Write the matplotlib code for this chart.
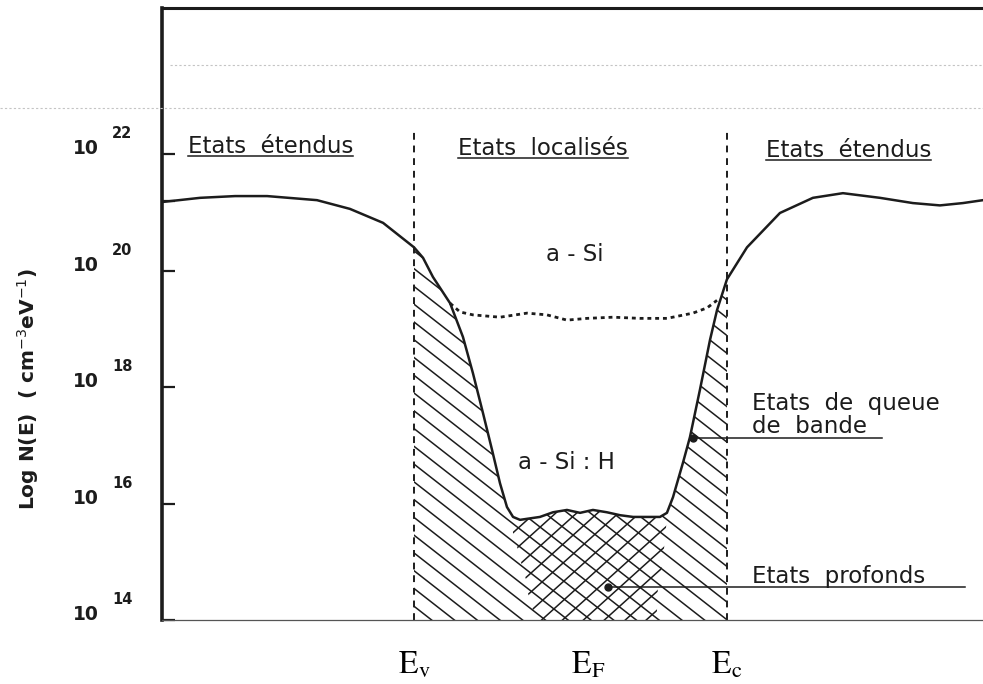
"""Density of states N(E) in a-Si and a-Si:H (schematic, log scale)."""
import matplotlib
matplotlib.use("Agg")
import matplotlib.pyplot as plt
import numpy as np
from matplotlib.collections import LineCollection
from matplotlib.lines import Line2D
from matplotlib.patches import Polygon
from matplotlib.transforms import IdentityTransform

# energy axis in eV, E_v = 0 ; y axis = log10 N(E)
E_V, E_F, E_C = 0.0, 0.945, 1.70

# a-Si:H density of states (solid curve)
e_h = [-1.363, -1.162, -0.972, -0.798, -0.527, -0.348, -0.168, 0.0, 0.049, 0.103,
       0.196, 0.266, 0.320, 0.375, 0.424, 0.467, 0.505, 0.538, 0.576, 0.684,
       0.755, 0.831, 0.902, 0.972, 1.048, 1.119, 1.190, 1.336, 1.374, 1.407,
       1.461, 1.499, 1.553, 1.608, 1.646, 1.70, 1.809, 1.988, 2.167, 2.330,
       2.531, 2.710, 2.857, 2.982, 3.091]
logn_h = [21.18, 21.25, 21.28, 21.28, 21.21, 21.06, 20.82, 20.40, 20.22, 19.89,
          19.44, 18.86, 18.24, 17.55, 16.92, 16.35, 15.94, 15.77, 15.72, 15.77,
          15.85, 15.89, 15.84, 15.89, 15.85, 15.80, 15.77, 15.77, 15.84, 16.11,
          16.70, 17.14, 17.95, 18.81, 19.32, 19.85, 20.40, 20.99, 21.25, 21.33,
          21.25, 21.16, 21.12, 21.16, 21.21]

# a-Si gap states (dotted curve)
e_si = [0.196, 0.250, 0.320, 0.467, 0.614, 0.722, 0.831, 0.940, 1.081, 1.228,
        1.374, 1.515, 1.592, 1.646]
logn_si = [19.44, 19.29, 19.24, 19.20, 19.27, 19.24, 19.15, 19.18, 19.20, 19.18,
           19.18, 19.27, 19.36, 19.49]

# edges of the deep states zone (cross hatched), top to bottom
deep_left_e = [0.532, 0.538, 0.565, 0.592, 0.614, 0.619, 0.646, 0.657]
deep_left_logn = [15.68, 15.49, 15.20, 14.86, 14.64, 14.46, 14.17, 14.00]
deep_right_e = [1.374, 1.363, 1.347, 1.325, 1.320, 1.315]
deep_right_logn = [15.77, 15.37, 14.91, 14.57, 14.17, 14.00]

y_ticks = [14, 16, 18, 20, 22]
y_minor = [21.19]
tick_exp = ["14", "16", "18", "20", "22"]

headers = ["Etats  étendus", "Etats  localisés", "Etats  étendus"]
header_e = [-1.228, 0.239, 1.912]
header_logn = [22.02, 21.98, 21.95]

tail_note = ("Etats  de  queue", "de  bande")
tail_dot = (1.515, 17.12)
tail_line_end = 2.542
deep_note = "Etats  profonds"
deep_dot = (1.054, 14.57)
deep_line_end = 2.993

Y_MIN, Y_MAX = 14.0, 24.51
X_MIN, X_MAX = -1.369, 3.091
INK = "#1c1c1c"
FS = 16.5

fig = plt.figure(figsize=(9.83, 6.84), dpi=100)
ax = fig.add_axes([162 / 983, 64 / 684, 821 / 983, 612 / 684])
ax.set_xlim(X_MIN, X_MAX)
ax.set_ylim(Y_MIN, Y_MAX)


def hatch(ax, verts, angle, spacing=14.0, lw=1.1):
    """Straight hatch lines at a given angle, clipped to a data polygon."""
    patch = Polygon(verts, closed=True, facecolor="none", edgecolor="none")
    ax.add_patch(patch)
    w, h = ax.bbox.width, ax.bbox.height
    a = np.radians(angle)
    d = np.array([np.cos(a), np.sin(a)])
    n = np.array([-np.sin(a), np.cos(a)])
    L = np.hypot(w, h)
    segs = []
    for c in np.arange(-L, L, spacing):
        p0 = c * n - L * d
        p1 = c * n + L * d
        segs.append([(p0[0] / w, p0[1] / h), (p1[0] / w, p1[1] / h)])
    lc = LineCollection(segs, colors=INK, linewidths=lw, transform=ax.transAxes, zorder=1)
    lc.set_clip_path(patch)
    ax.add_collection(lc, autolim=False)


eh = np.array(e_h)
nh = np.array(logn_h)

# band tails: everything under the curve between E_v and E_c
m = (eh >= E_V) & (eh <= E_C)
tail_verts = [(E_V, Y_MIN)] + list(zip(eh[m], nh[m])) + [(E_C, Y_MIN)]
hatch(ax, tail_verts, -38)

# deep states: second set of lines -> cross hatch
m = (eh > deep_left_e[0]) & (eh < deep_right_e[0])
deep_verts = (list(zip(deep_left_e[::-1], deep_left_logn[::-1]))
              + list(zip(eh[m], nh[m]))
              + list(zip(deep_right_e, deep_right_logn)))
hatch(ax, deep_verts, 42)

ax.plot(eh, nh, color=INK, lw=1.8, zorder=3, solid_capstyle="round")
ax.plot(e_si, logn_si, color=INK, lw=2.0, ls=(0, (1.4, 1.4)), zorder=3)

for e in (E_V, E_C):
    ax.plot([e, e], [Y_MIN, 22.38], color=INK, lw=1.4, ls=(0, (3.5, 3)), zorder=2)

# spines / ticks
ax.spines["right"].set_visible(False)
ax.spines["left"].set_linewidth(2.6)
ax.spines["top"].set_linewidth(2.2)
ax.spines["left"].set_color(INK)
ax.spines["top"].set_color(INK)
ax.spines["bottom"].set_linewidth(0.9)
ax.spines["bottom"].set_color("#555555")
ax.set_xticks([])
ax.set_yticks(y_ticks)
ax.set_yticks(y_minor, minor=True)
ax.tick_params(axis="y", which="both", direction="in", length=9, width=1.6,
               color=INK, labelleft=False)

ytr = ax.get_yaxis_transform()
for v, ex in zip(y_ticks, tick_exp):
    ax.annotate("10", xy=(0, v), xycoords=ytr, xytext=(-89, 0), textcoords="offset pixels",
                ha="left", va="baseline", fontsize=13.5, fontweight="bold", color=INK,
                annotation_clip=False)
    ax.annotate(ex, xy=(0, v), xycoords=ytr, xytext=(-50, 16), textcoords="offset pixels",
                ha="left", va="baseline", fontsize=10.5, fontweight="bold", color=INK,
                annotation_clip=False)

fig.text(28 / 983, 1 - 389 / 684, r"Log N(E)  ( cm$^{-3}$eV$^{-1}$)", rotation=90,
         ha="center", va="center", fontsize=14.5, fontweight="bold", color=INK)

# region titles, underlined
txt_kw = dict(fontsize=FS, color=INK, va="baseline", ha="left")
underlined = []
for lab, e, y in zip(headers, header_e, header_logn):
    underlined.append(ax.text(e, y, lab, **txt_kw))

ax.text(0.875, 20.27, "a - Si", fontsize=FS, color=INK, ha="center", va="center")
ax.text(0.826, 16.70, "a - Si : H", fontsize=FS, color=INK, ha="center", va="center")

ax.text(1.836, 17.605, tail_note[0], **txt_kw)
ax.text(1.836, 17.21, tail_note[1], **txt_kw)
ax.text(1.836, 14.635, deep_note, **txt_kw)

ax.plot([tail_dot[0], tail_line_end], [tail_dot[1]] * 2, color=INK, lw=1.1, zorder=4)
ax.plot([deep_dot[0], deep_line_end], [deep_dot[1]] * 2, color=INK, lw=1.1, zorder=4)
ax.plot(*tail_dot, "o", color=INK, ms=5, zorder=5)
ax.plot(*deep_dot, "o", color=INK, ms=5, zorder=5)

# energy markers below the axis
xtr = ax.get_xaxis_transform()
for e, lab in zip((E_V, E_F, E_C), ("v", "F", "c")):
    ax.text(e, -0.088, r"$\mathrm{E}_\mathrm{%s}$" % lab, transform=xtr, ha="center",
            va="baseline", fontsize=23, color="black", math_fontfamily="stix")

# faint scanner lines near the top
for y, x0 in ((65, 170), (108, 0)):
    fig.add_artist(Line2D([x0 / 983, 1], [1 - y / 684] * 2, color="#c4c4c4", lw=0.8,
                          ls=(0, (2, 2)), transform=fig.transFigure))

fig.canvas.draw()
r = fig.canvas.get_renderer()
for t in underlined:
    bb = t.get_window_extent(r)
    yb = ax.transData.transform(t.get_position())[1] - 3
    fig.add_artist(Line2D([bb.x0, bb.x1], [yb, yb], color=INK, lw=1.1,
                          transform=IdentityTransform()))

fig.savefig("out.png", dpi=100)
